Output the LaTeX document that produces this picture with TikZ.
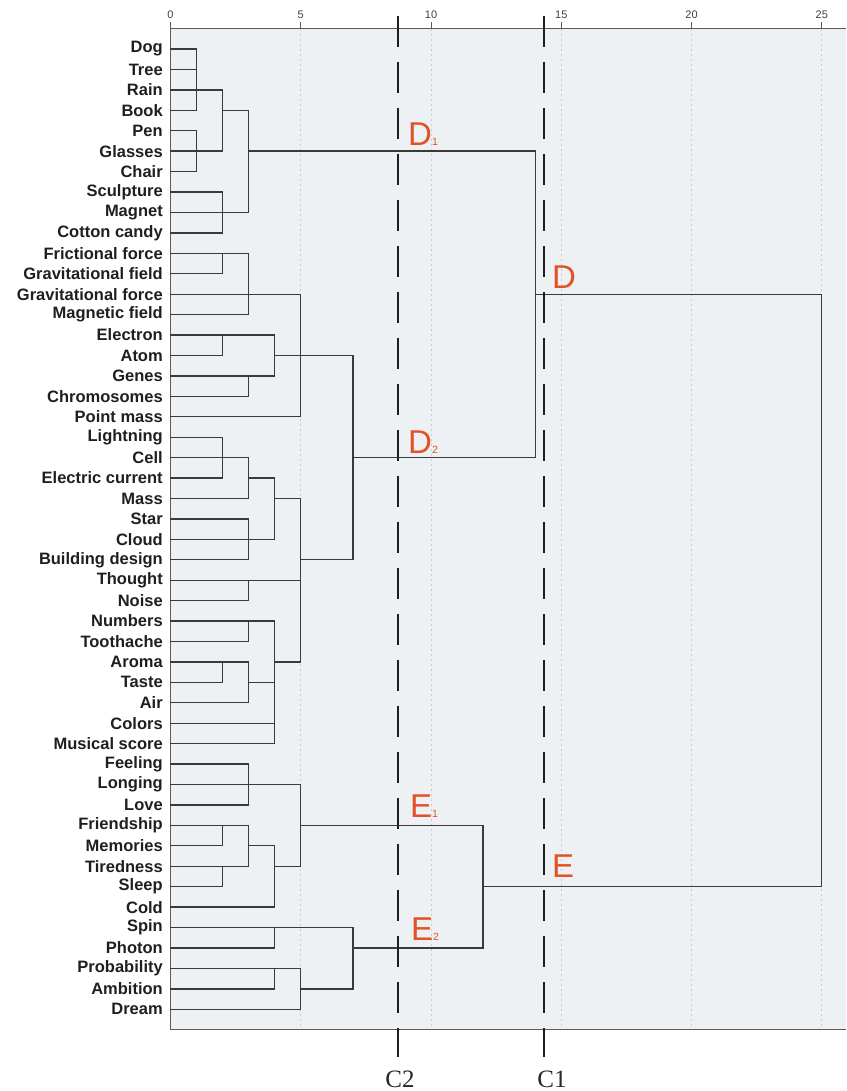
\documentclass[tikz,border=0pt]{standalone}
\usepackage{fontspec}
\setmainfont{Liberation Sans}
\newfontfamily\cutfont{Liberation Serif}

\definecolor{plotbg}{RGB}{238,241,244}
\definecolor{gridcol}{RGB}{200,204,209}
\definecolor{treecol}{RGB}{58,58,58}
\definecolor{axiscol}{RGB}{90,90,90}
\definecolor{grpcol}{RGB}{226,82,36}

\tikzset{
  leaf/.style={anchor=east, inner sep=0pt, text=black!88,
    font=\fontsize{16.5}{18}\selectfont\bfseries},
  branch/.style={draw=treecol, line width=1.3pt, line cap=rect},
  axisline/.style={draw=axiscol, line width=1pt},
  gridline/.style={draw=gridcol, line width=0.8pt, dash pattern=on 2pt off 3pt},
  ticklbl/.style={anchor=base, inner sep=0pt, text=black!75,
    font=\fontsize{11}{11}\selectfont},
  cutline/.style={draw=black!88, line width=2.6pt, dash pattern=on 31pt off 15pt},
  cutlbl/.style={inner sep=0pt, text=black!85, font=\cutfont\fontsize{25}{25}\selectfont},
  grplbl/.style={anchor=base west, inner sep=0pt, text=grpcol,
    font=\fontsize{33}{33}\selectfont},
}
\newcommand{\grp}[2]{#1{\fontsize{10.5}{10.5}\selectfont #2}}

\begin{document}
\begin{tikzpicture}[x=26.05pt, y=-20.43pt]
  \useasboundingbox (-6.545,-1.398) rectangle (25.93,52.0);

  % --- plot area ---
  \fill[plotbg] (0,0) rectangle (25.93,49);
  \foreach \g in {5,10,15,20,25}
    \draw[gridline] (\g,0) -- (\g,49);
  \draw[axisline] (0,49) -- (0,0) -- (25.93,0);
  \draw[axisline] (0,49) -- (25.93,49);
  \foreach \g in {0,5,...,25} {
    \draw[axisline] (\g,0) -- (\g,-0.32);
    \node[ticklbl] (t\g) at (\g,-0.5) {\g};
  }

  % --- leaves: row / label / height of first join ---
  \foreach \i/\name/\h in {
      1/Dog/1, 2/Tree/1, 3/Rain/2, 4/Book/1, 5/Pen/1, 6/Glasses/2,
      7/Chair/1, 8/Sculpture/2, 9/Magnet/3, 10/Cotton candy/2,
      11/Frictional force/3, 12/Gravitational field/2,
      13/Gravitational force/5, 14/Magnetic field/3, 15/Electron/4,
      16/Atom/2, 17/Genes/4, 18/Chromosomes/3, 19/Point mass/5,
      20/Lightning/2, 21/Cell/3, 22/Electric current/2, 23/Mass/3,
      24/Star/3, 25/Cloud/4, 26/Building design/3, 27/Thought/5,
      28/Noise/3, 29/Numbers/4, 30/Toothache/3, 31/Aroma/3, 32/Taste/2,
      33/Air/3, 34/Colors/4, 35/Musical score/4, 36/Feeling/3,
      37/Longing/3, 38/Love/3, 39/Friendship/3, 40/Memories/2,
      41/Tiredness/3, 42/Sleep/2, 43/Cold/4, 44/Spin/7, 45/Photon/4,
      46/Probability/5, 47/Ambition/4, 48/Dream/5} {
    \node[leaf] (r\i) at (-0.29,\i) {\name};
    \draw[branch] (0,\i) -- (\h,\i);
  }

  % --- joins: row / from / to ---
  \foreach \r/\a/\b in {4/2/3, 6/3/14, 13/14/25, 16/4/7, 21/7/14,
      22/3/4, 23/4/5, 26/5/7, 31/4/5, 32/3/4, 37/3/5, 39/5/12,
      40/3/4, 41/4/5, 42/12/25, 45/7/12, 47/5/7}
    \draw[branch] (\a,\r) -- (\b,\r);

  % --- joins: height / first row / last row ---
  \foreach \x/\a/\b in {1/1/4, 1/5/7, 2/3/6, 3/4/9, 2/8/10, 2/11/12,
      3/11/14, 5/13/19, 2/15/16, 4/15/17, 3/17/18, 7/16/26, 2/20/22,
      3/21/23, 4/22/25, 5/23/31, 3/24/26, 3/27/28, 3/29/30, 4/29/35,
      2/31/32, 3/31/33, 3/36/38, 5/37/41, 2/39/40, 3/39/41, 2/41/42,
      4/40/43, 4/44/45, 7/44/47, 4/46/47, 5/46/48, 14/6/21, 25/13/42,
      12/39/45}
    \draw[branch] (\x,\a) -- (\x,\b);

  % --- cut lines ---
  \coordinate (c2top) at (8.733,-0.615);
  \coordinate (c2bot) at (8.733,50.34);
  \coordinate (c1top) at (14.338,-0.615);
  \coordinate (c1bot) at (14.338,50.34);
  \draw[cutline] (c2top) -- (c2bot);
  \draw[cutline] (c1top) -- (c1bot);
  \node[cutlbl] (c2) at (8.81,51.44) {C2};
  \node[cutlbl] (c1) at (14.64,51.44) {C1};

  % --- group labels ---
  \node[grplbl] (d1) at (9.117,5.748) {\grp{D}{1}};
  \node[grplbl] (d2) at (9.117,20.775) {\grp{D}{2}};
  \node[grplbl] (d) at (14.645,12.70) {D};
  \node[grplbl] (e1) at (9.19,38.59) {\grp{E}{1}};
  \node[grplbl] (e2) at (9.23,44.61) {\grp{E}{2}};
  \node[grplbl] (e) at (14.645,41.53) {E};

\end{tikzpicture}
\end{document}
